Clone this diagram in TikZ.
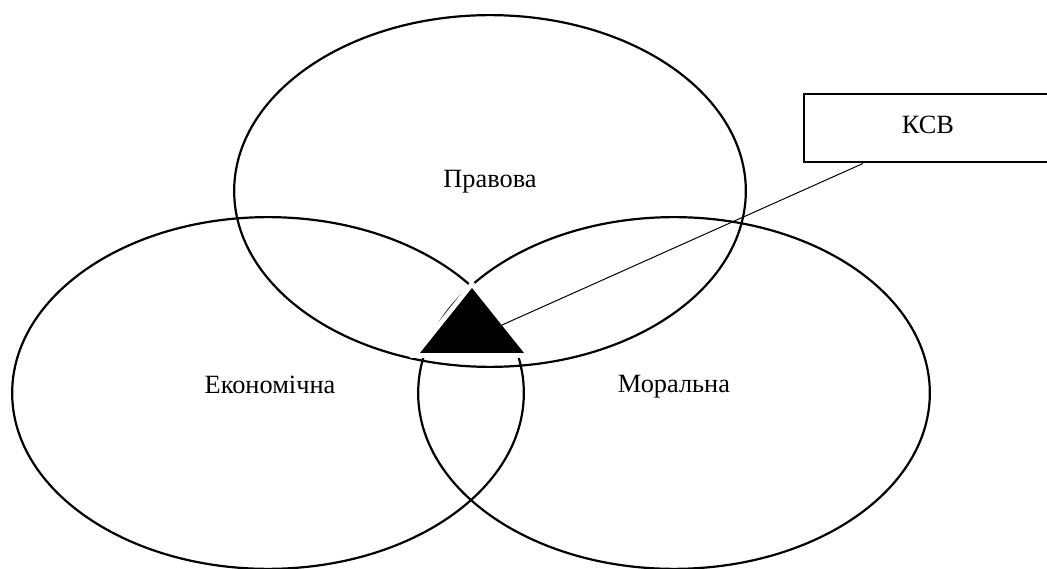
\documentclass[tikz,border=0pt]{standalone}
\usepackage{fontspec}
\setmainfont{Liberation Serif}
\usepackage{tikz}
\usetikzlibrary{calc,positioning,shapes}
\tikzset{%
sphere/.style={draw, ellipse, line width=1pt, minimum width=8.19cm, minimum height=5.63cm, inner sep=0pt},
sphere label/.style={font=\fontsize{12}{14}\selectfont},
ksvbox/.style={draw, rectangle, line width=1pt, minimum width=5cm, minimum height=1.1cm, font=\fontsize{12}{14}\selectfont}
}

\begin{document}
\begin{tikzpicture}[x=0.016cm, y=-0.016cm]
\useasboundingbox (0,0) rectangle (1047,569);
\clip (0,0) rectangle (1047,569);

\node[sphere] (prav) at (490,191) {};
\node[sphere] (econ) at (268,393) {};
\node[sphere] (moral) at (674,393) {};

\node[sphere label] (pravtxt) at ($(prav)+(0,-9)$) {Правова};
\node[sphere label] (econtxt) at ($(econ)+(2,-8)$) {Економічна};
\node[sphere label] (moraltxt) at ($(moral)+(0,-6)$) {Моральна};

\node[ksvbox, anchor=west] (ksv) at (803,128) {};
\node[sphere label] (ksvtxt) at (928,125) {КСВ};

%triangle in the common part
\draw[white, line width=4.5pt, line join=miter] (472,288) -- (524,353) -- (420,353) -- cycle;
\fill[black] (472,288) -- (524,353) -- (420,353) -- cycle;
\coordinate (tri) at (502,325);

\draw[line width=0.45pt] (tri) -- ($(ksv.south west)+(60,0)$);

\end{tikzpicture}
\end{document}
